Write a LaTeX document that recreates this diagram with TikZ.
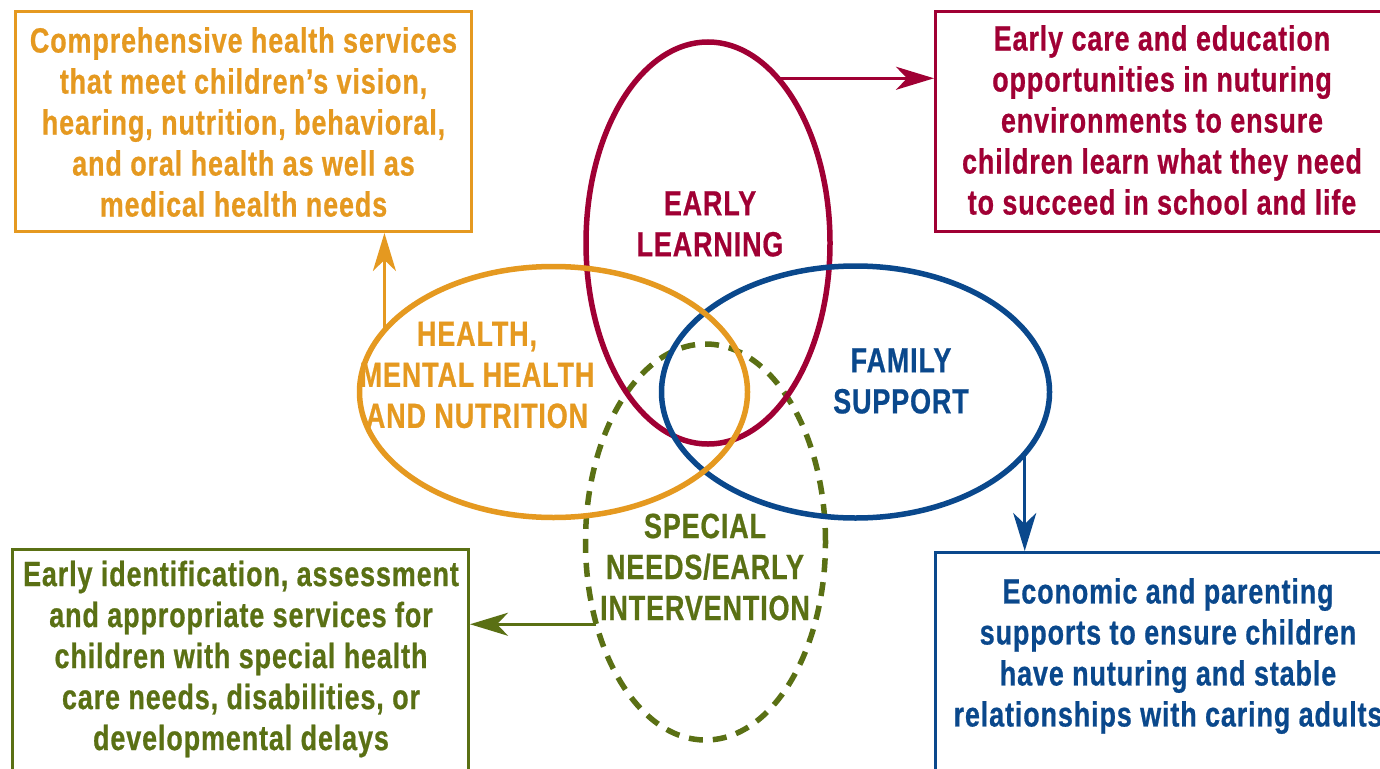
\documentclass[tikz,border=0pt]{standalone}
\usepackage{fontspec}
\newfontfamily\cf{Liberation Sans}[FakeStretch=0.77, LetterSpace=2.5, FakeBold=0.6]
\usetikzlibrary{shapes.geometric,arrows.meta}
\definecolor{corange}{RGB}{229,153,32}
\definecolor{cred}{RGB}{160,0,52}
\definecolor{cblue}{RGB}{10,72,140}
\definecolor{cgreen}{RGB}{90,112,20}
\tikzset{
  txt/.style={font=\cf\bfseries\fontsize{35}{41}\selectfont, align=center, inner sep=0pt},
  infobox/.style={draw, line width=3pt, minimum width=456pt, minimum height=220pt, inner sep=0pt},
  oval/.style={ellipse, draw, line width=5.5pt, inner sep=0pt, outer sep=0pt},
  arr/.style={line width=3pt, -{Stealth[length=38pt, width=23pt, inset=11pt]}},
}
\begin{document}
\begin{tikzpicture}[x=1pt,y=-1pt]
\useasboundingbox (0,0) rectangle (1380,768);
\fill[white] (0,0) rectangle (1380,768);
\clip (0,0) rectangle (1380,768);

% ellipses
\node[oval, cgreen, dashed, dash pattern=on 14pt off 10pt, minimum width=240pt, minimum height=396pt] (sn) at (705.5,542) {};
\node[oval, cred, minimum width=244pt, minimum height=402pt] (el) at (708,243) {};
\node[oval, cblue, minimum width=388pt, minimum height=252pt] (fs) at (855.5,392) {};
\node[oval, corange, minimum width=388pt, minimum height=251pt] (hm) at (553.5,392) {};

% ellipse labels
\node[txt, cred] (elt) at (710,224) {EARLY\\LEARNING};
\node[txt, corange] (hmt) at (477,375) {HEALTH,\\MENTAL HEALTH\\AND NUTRITION};
\node[txt, cblue] (fst) at (901,381) {FAMILY\\SUPPORT};
\node[txt, cgreen] (snt) at (705,567) {SPECIAL\\NEEDS/EARLY\\INTERVENTION};

% boxes
\node[infobox, corange] (hb) at (243.5,121.5) {};
\node[txt, corange] (hbt) at (243.5,122) {Comprehensive health services\\that meet children’s vision,\\hearing, nutrition, behavioral,\\and oral health as well as\\medical health needs};
\node[infobox, cred, minimum width=453pt] (eb) at (1162,121.5) {};
\node[txt, cred] (ebt) at (1162,120) {Early care and education\\opportunities in nuturing\\environments to ensure\\children learn what they need\\to succeed in school and life};
\node[infobox, cgreen, minimum height=240pt] (gb) at (240.5,669.5) {};
\node[txt, cgreen] (gbt) at (241,659) {Early identification, assessment\\and appropriate services for\\children with special health\\care needs, disabilities, or\\developmental delays};
\node[infobox, cblue, minimum width=465pt, minimum height=240pt] (fb) at (1168,672.5) {};
\node[txt, cblue] (fbt) at (1168,656) {Economic and parenting\\supports to ensure children\\have nuturing and stable\\relationships with caring adults};

% connectors
\draw[arr, cred] (el.67.1) -- (el.67.1 -| eb.west);
\draw[arr, corange] (hm.160.6) -- (hm.160.6 |- hb.south);
\draw[arr, cblue] (fs.-20.5) -- (fs.-20.5 |- fb.north);
\draw[arr, cgreen] (sn.217.7) -- (sn.217.7 -| gb.east);
\end{tikzpicture}
\end{document}
